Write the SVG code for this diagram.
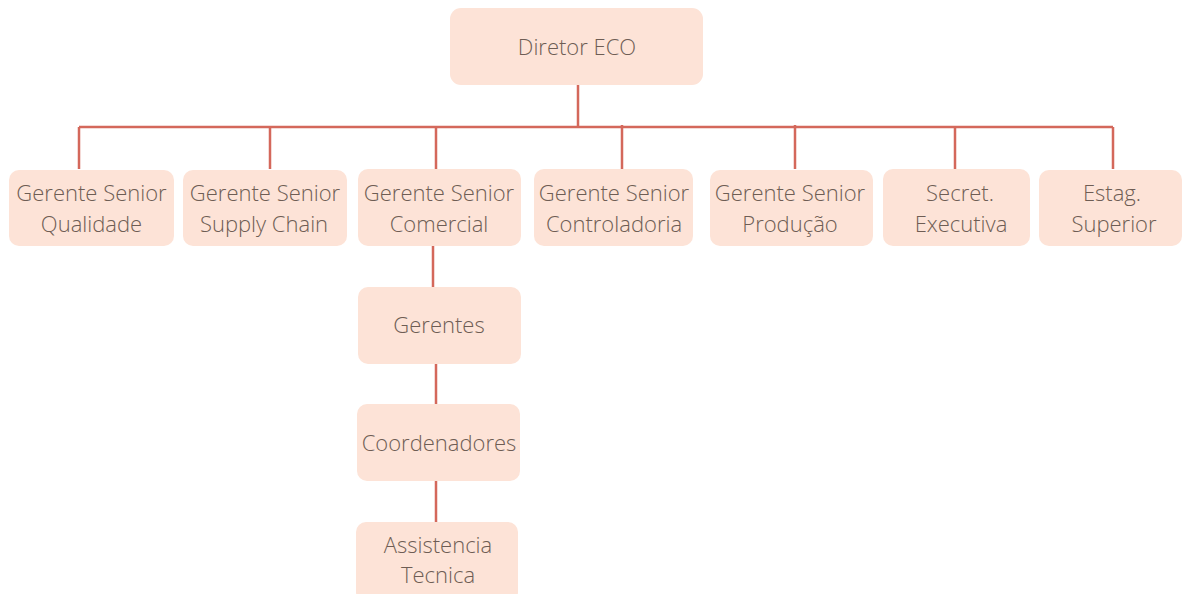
<svg xmlns="http://www.w3.org/2000/svg" width="1182" height="594" viewBox="0 0 1182 594">
<style>
.box{fill:#fde3d7;}
.t{font-family:"Open Sans","DejaVu Sans",sans-serif;font-weight:300;font-size:22px;fill:#6e5d54;text-anchor:middle;}
.c{stroke:#d4685b;stroke-width:2.5;fill:none;}
</style>
<rect width="1182" height="594" fill="#ffffff"/>
<g id="connectors">
<path class="c" d="M578 85V127M79 127H1113M79 127V169M270 127V169M436 127V169M622 125V169M795 125V169M955 127V169M1113 127V169"/>
<path class="c" d="M433 246V287M436 364V404M436 481V522"/>
</g>
<g id="n-director"><rect class="box" x="450" y="8" width="253" height="77" rx="11"/><text class="t" x="577" y="55">Diretor ECO</text></g>
<g id="n-qualidade"><rect class="box" x="9" y="170" width="165" height="76" rx="10"/><text class="t" x="91.5" y="201">Gerente Senior</text><text class="t" x="91.5" y="232">Qualidade</text></g>
<g id="n-supply"><rect class="box" x="183" y="170" width="164" height="76" rx="10"/><text class="t" x="265" y="201">Gerente Senior</text><text class="t" x="264" y="232">Supply Chain</text></g>
<g id="n-comercial"><rect class="box" x="358" y="169" width="163" height="77" rx="10"/><text class="t" x="439" y="201">Gerente Senior</text><text class="t" x="439" y="232">Comercial</text></g>
<g id="n-controladoria"><rect class="box" x="534" y="169" width="159" height="77" rx="10"/><text class="t" x="614" y="201">Gerente Senior</text><text class="t" x="614" y="232">Controladoria</text></g>
<g id="n-producao"><rect class="box" x="710" y="170" width="163" height="76" rx="10"/><text class="t" x="790" y="201">Gerente Senior</text><text class="t" x="790" y="232">Produção</text></g>
<g id="n-secret"><rect class="box" x="883" y="169" width="147" height="77" rx="10"/><text class="t" x="960" y="201">Secret.</text><text class="t" x="961" y="232">Executiva</text></g>
<g id="n-estag"><rect class="box" x="1039" y="170" width="143" height="76" rx="10"/><text class="t" x="1112" y="201">Estag.</text><text class="t" x="1114" y="232">Superior</text></g>
<g id="n-gerentes"><rect class="box" x="358" y="287" width="163" height="77" rx="10"/><text class="t" x="439" y="333">Gerentes</text></g>
<g id="n-coord"><rect class="box" x="357" y="404" width="163" height="77" rx="10"/><text class="t" x="439" y="451">Coordenadores</text></g>
<g id="n-assist"><rect class="box" x="356" y="522" width="162" height="80" rx="10"/><text class="t" x="438" y="553">Assistencia</text><text class="t" x="438" y="583">Tecnica</text></g>
</svg>
